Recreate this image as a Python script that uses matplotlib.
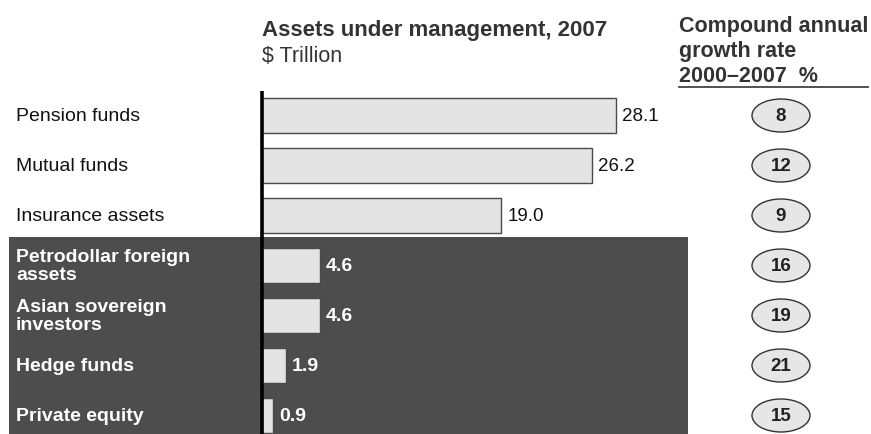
import matplotlib.pyplot as plt
from matplotlib.patches import Ellipse, Rectangle

plt.rcParams['font.family'] = ['Liberation Sans', 'DejaVu Sans']

# Assets under management, 2007 ($ trillion) and CAGR 2000-2007 (%)
categories = ["Pension funds", "Mutual funds", "Insurance assets",
              "Petrodollar foreign\nassets", "Asian sovereign\ninvestors",
              "Hedge funds", "Private equity"]
assets = [28.1, 26.2, 19.0, 4.6, 4.6, 1.9, 0.9]
cagr = [8, 12, 9, 16, 19, 21, 15]
highlighted = [False, False, False, True, True, True, True]

W, H = 871, 435
X0 = 262          # pixel position of the zero line
PX_PER_UNIT = 12.6
ROW0, ROW_STEP = 116.5, 50

fig = plt.figure(figsize=(W / 100, H / 100), dpi=100)
ax = fig.add_axes([0, 0, 1, 1])
ax.set_xlim(-X0 / PX_PER_UNIT, (W - X0) / PX_PER_UNIT)
ax.set_ylim((H - ROW0) / ROW_STEP, -ROW0 / ROW_STEP)
ax.axis('off')


def px(x, y):
    # pixel coordinates -> axes fraction
    return x / W, 1 - y / H


# dark panel behind the smaller investor groups
x1, y1 = px(9, 238)
x2, y2 = px(688, H)
ax.add_patch(Rectangle((x1, y2), x2 - x1, y1 - y2, transform=ax.transAxes,
                       facecolor='#4d4d4d', edgecolor='none', zorder=0))

rows = list(range(len(categories)))
ax.barh(rows, assets, height=0.7, color='#e4e4e4', edgecolor='#4a4a4a',
        linewidth=1, zorder=2)

cx = (781 - X0) / PX_PER_UNIT
for i, (cat, val, g, hl) in enumerate(zip(categories, assets, cagr, highlighted)):
    col = 'white' if hl else '#111111'
    weight = 'bold' if hl else 'normal'
    ax.text(val + 6 / PX_PER_UNIT, i, f"{val:.1f}", va='center', ha='left',
            fontsize=14 if hl else 13.5, color=col, fontweight=weight, zorder=3)
    ax.text(16 / W, i, cat, va='center', ha='left', fontsize=14,
            color=col, fontweight=weight, linespacing=1.1, zorder=3,
            transform=ax.get_yaxis_transform())
    ax.add_patch(Ellipse((cx, i), 58 / PX_PER_UNIT, 0.66, facecolor='#e6e6e6',
                         edgecolor='#333333', linewidth=1, zorder=2))
    ax.text(cx, i, str(g), ha='center', va='center', fontsize=13.5,
            fontweight='bold', color='#222222', zorder=3)

# zero line
ax.plot([0, 0], [-0.49, 6.4], color='black', linewidth=2.6, zorder=4,
        solid_capstyle='butt')

# headers
ax.text(*px(262, 36), "Assets under management, 2007", transform=ax.transAxes,
        fontsize=16, fontweight='bold', color='#333333', va='baseline')
ax.text(*px(262, 62), "$ Trillion", transform=ax.transAxes,
        fontsize=15.5, color='#333333', va='baseline')
ax.text(*px(679, 82), "Compound annual\ngrowth rate\n2000\u20132007  %",
        transform=ax.transAxes, fontsize=15.5, fontweight='bold',
        color='#333333', va='baseline', linespacing=1.25)
ax.plot([679 / W, 868 / W], [1 - 88 / H] * 2, transform=ax.transAxes,
        color='#333333', linewidth=1.2)

fig.savefig('out.png', dpi=100, facecolor='white')
